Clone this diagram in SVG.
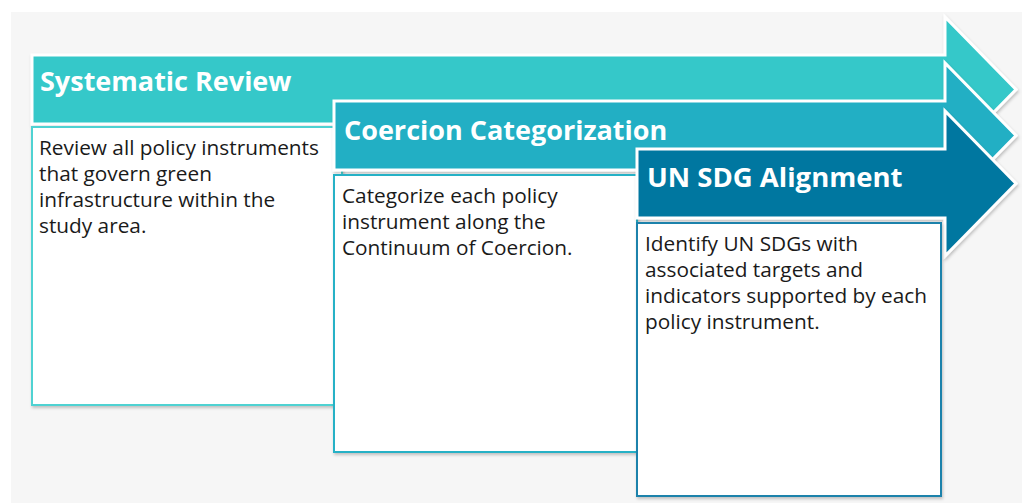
<svg xmlns="http://www.w3.org/2000/svg" width="1022" height="503" viewBox="0 0 1022 503">
<defs>
<filter id="sh" x="-5%" y="-5%" width="112%" height="115%">
<feDropShadow dx="1" dy="2" stdDeviation="1.5" flood-color="#000" flood-opacity="0.22"/>
</filter>
</defs>
<style>
.hdr{font-family:"Open Sans","Liberation Sans",sans-serif;font-weight:bold;font-size:27px;fill:#ffffff}
.body{font-family:"Open Sans","Liberation Sans",sans-serif;font-size:20.8px;fill:#1a1a1a}
.arrow{stroke:#ffffff;stroke-width:3;stroke-linejoin:miter;filter:url(#sh)}
.box{fill:#ffffff;stroke-width:2;filter:url(#sh)}
</style>
<rect x="0" y="0" width="1022" height="503" fill="#ffffff"/>
<rect x="11" y="12" width="1011" height="491" fill="#f6f6f6"/>

<g id="step1">
<polygon class="arrow" fill="#35c8c9" points="32,55 945,55 945,17 1016,89.5 945,162 945,124 32,124"/>
<text class="hdr" x="40" y="91">Systematic Review</text>
<rect class="box" stroke="#4fd2d2" x="32" y="127" width="310" height="278"/>
<text class="body" x="39" y="155">Review all policy instruments</text>
<text class="body" x="39" y="181">that govern green</text>
<text class="body" x="39" y="207">infrastructure within the</text>
<text class="body" x="39" y="233">study area.</text>
</g>

<g id="step2">
<polygon class="arrow" fill="#21afc4" points="334,101 945,101 945,63 1016,135.5 945,208 945,170 334,170"/>
<text class="hdr" x="344" y="140">Coercion Categorization</text>
<rect class="box" stroke="#27b1c6" x="334" y="175" width="303" height="277"/>
<text class="body" x="342" y="203">Categorize each policy</text>
<text class="body" x="342" y="229">instrument along the</text>
<text class="body" x="342" y="255">Continuum of Coercion.</text>
</g>

<g id="step3">
<polygon class="arrow" fill="#0677a0" points="637,149 945,149 945,111 1016,183.5 945,256 945,218 637,218"/>
<text class="hdr" x="647" y="187" style="font-size:27.5px">UN SDG Alignment</text>
<rect class="box" stroke="#1b82ab" x="637" y="223" width="304" height="273"/>
<text class="body" x="645" y="251">Identify UN SDGs with</text>
<text class="body" x="645" y="277">associated targets and</text>
<text class="body" x="645" y="303">indicators supported by each</text>
<text class="body" x="645" y="329">policy instrument.</text>
</g>

<g id="connectors"></g>
</svg>
